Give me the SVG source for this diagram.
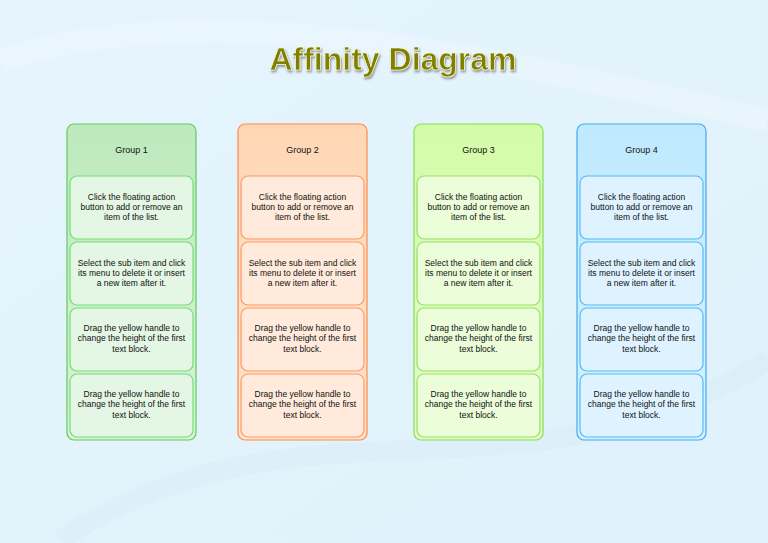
<svg xmlns="http://www.w3.org/2000/svg" width="768" height="543" viewBox="0 0 768 543">
<defs>
<linearGradient id="bg" x1="0" y1="0" x2="1" y2="1"><stop offset="0" stop-color="#e6f5fc"/><stop offset="1" stop-color="#dff1fb"/></linearGradient>
<linearGradient id="g1" x1="0" y1="0" x2="0" y2="1"><stop offset="0" stop-color="#bde9bd"/><stop offset="1" stop-color="#d8f3d8"/></linearGradient>
<linearGradient id="g2" x1="0" y1="0" x2="0" y2="1"><stop offset="0" stop-color="#ffd7b5"/><stop offset="1" stop-color="#ffe3cc"/></linearGradient>
<linearGradient id="g3" x1="0" y1="0" x2="0" y2="1"><stop offset="0" stop-color="#d3fca8"/><stop offset="1" stop-color="#e2fcc8"/></linearGradient>
<linearGradient id="g4" x1="0" y1="0" x2="0" y2="1"><stop offset="0" stop-color="#bfe9ff"/><stop offset="1" stop-color="#d4f0ff"/></linearGradient>
<filter id="sh" x="-10%" y="-20%" width="120%" height="150%"><feDropShadow dx="1" dy="2" stdDeviation="1.2" flood-color="#555" flood-opacity="0.6"/></filter>
</defs>
<style>
.grp{stroke-width:1.2}
.it{stroke-width:1.2}
text{font-family:"Liberation Sans",Arial,sans-serif;font-size:8.5px;fill:#111;text-anchor:middle}
.hd{font-size:9px}
.c1 .grp{fill:url(#g1);stroke:#5fcc5f}.c1 .it{fill:#e4f6e4;stroke:#77dd77}
.c2 .grp{fill:url(#g2);stroke:#ff8a4a}.c2 .it{fill:#ffeadb;stroke:#ff9966}
.c3 .grp{fill:url(#g3);stroke:#88dd55}.c3 .it{fill:#ebfdd9;stroke:#99e066}
.c4 .grp{fill:url(#g4);stroke:#44aaee}.c4 .it{fill:#def3ff;stroke:#55bbf0}
</style>
<rect width="768" height="543" fill="url(#bg)"/>
<path d="M0 60 C200 0 420 40 768 120" stroke="#eef8fd" stroke-width="24" fill="none" opacity="0.5"/>
<path d="M60 540 C300 380 520 520 768 360" stroke="#d6ecf7" stroke-width="20" fill="none" opacity="0.4"/>
<text x="393" y="70" filter="url(#sh)" style="font-size:32px;font-weight:bold;fill:#7f7f00;stroke:#fffbe0;stroke-width:0.7;font-family:'Liberation Sans',Arial,sans-serif">Affinity Diagram</text>
<g id="connectors"/>
<g id="group1" class="c1" transform="translate(67,124)">
<rect class="grp" x="0" y="0" width="129" height="316" rx="7"/>
<text class="hd" x="64.5" y="29">Group 1</text>
<rect class="it" x="3" y="52" width="123" height="63" rx="7"/>
<text x="64.5" y="76">Click the floating action</text><text x="64.5" y="86">button to add or remove an</text><text x="64.5" y="96">item of the list.</text>
<rect class="it" x="3" y="118" width="123" height="63" rx="7"/>
<text x="64.5" y="142">Select the sub item and click</text><text x="64.5" y="152">its menu to delete it or insert</text><text x="64.5" y="162">a new item after it.</text>
<rect class="it" x="3" y="184" width="123" height="63" rx="7"/>
<text x="64.5" y="207">Drag the yellow handle to</text><text x="64.5" y="217">change the height of the first</text><text x="64.5" y="228">text block.</text>
<rect class="it" x="3" y="250" width="123" height="63" rx="7"/>
<text x="64.5" y="273">Drag the yellow handle to</text><text x="64.5" y="283">change the height of the first</text><text x="64.5" y="294">text block.</text>
</g>
<g id="group2" class="c2" transform="translate(238,124)">
<rect class="grp" x="0" y="0" width="129" height="316" rx="7"/>
<text class="hd" x="64.5" y="29">Group 2</text>
<rect class="it" x="3" y="52" width="123" height="63" rx="7"/>
<text x="64.5" y="76">Click the floating action</text><text x="64.5" y="86">button to add or remove an</text><text x="64.5" y="96">item of the list.</text>
<rect class="it" x="3" y="118" width="123" height="63" rx="7"/>
<text x="64.5" y="142">Select the sub item and click</text><text x="64.5" y="152">its menu to delete it or insert</text><text x="64.5" y="162">a new item after it.</text>
<rect class="it" x="3" y="184" width="123" height="63" rx="7"/>
<text x="64.5" y="207">Drag the yellow handle to</text><text x="64.5" y="217">change the height of the first</text><text x="64.5" y="228">text block.</text>
<rect class="it" x="3" y="250" width="123" height="63" rx="7"/>
<text x="64.5" y="273">Drag the yellow handle to</text><text x="64.5" y="283">change the height of the first</text><text x="64.5" y="294">text block.</text>
</g>
<g id="group3" class="c3" transform="translate(414,124)">
<rect class="grp" x="0" y="0" width="129" height="316" rx="7"/>
<text class="hd" x="64.5" y="29">Group 3</text>
<rect class="it" x="3" y="52" width="123" height="63" rx="7"/>
<text x="64.5" y="76">Click the floating action</text><text x="64.5" y="86">button to add or remove an</text><text x="64.5" y="96">item of the list.</text>
<rect class="it" x="3" y="118" width="123" height="63" rx="7"/>
<text x="64.5" y="142">Select the sub item and click</text><text x="64.5" y="152">its menu to delete it or insert</text><text x="64.5" y="162">a new item after it.</text>
<rect class="it" x="3" y="184" width="123" height="63" rx="7"/>
<text x="64.5" y="207">Drag the yellow handle to</text><text x="64.5" y="217">change the height of the first</text><text x="64.5" y="228">text block.</text>
<rect class="it" x="3" y="250" width="123" height="63" rx="7"/>
<text x="64.5" y="273">Drag the yellow handle to</text><text x="64.5" y="283">change the height of the first</text><text x="64.5" y="294">text block.</text>
</g>
<g id="group4" class="c4" transform="translate(577,124)">
<rect class="grp" x="0" y="0" width="129" height="316" rx="7"/>
<text class="hd" x="64.5" y="29">Group 4</text>
<rect class="it" x="3" y="52" width="123" height="63" rx="7"/>
<text x="64.5" y="76">Click the floating action</text><text x="64.5" y="86">button to add or remove an</text><text x="64.5" y="96">item of the list.</text>
<rect class="it" x="3" y="118" width="123" height="63" rx="7"/>
<text x="64.5" y="142">Select the sub item and click</text><text x="64.5" y="152">its menu to delete it or insert</text><text x="64.5" y="162">a new item after it.</text>
<rect class="it" x="3" y="184" width="123" height="63" rx="7"/>
<text x="64.5" y="207">Drag the yellow handle to</text><text x="64.5" y="217">change the height of the first</text><text x="64.5" y="228">text block.</text>
<rect class="it" x="3" y="250" width="123" height="63" rx="7"/>
<text x="64.5" y="273">Drag the yellow handle to</text><text x="64.5" y="283">change the height of the first</text><text x="64.5" y="294">text block.</text>
</g>
</svg>
